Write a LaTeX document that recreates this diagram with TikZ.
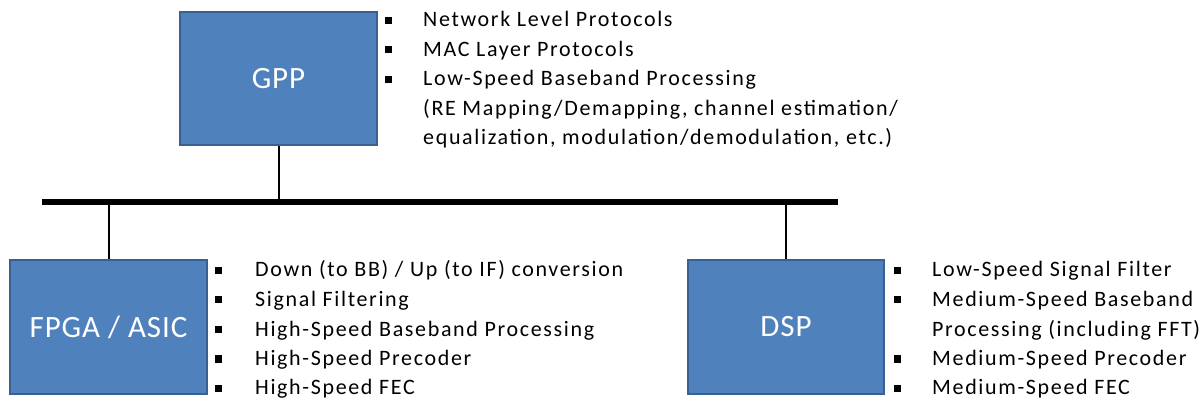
\documentclass[tikz,border=0pt]{standalone}
\usepackage{fontspec}
\setmainfont{Carlito}
\newfontfamily\listfont[LetterSpace=7.5]{Carlito}
\newfontfamily\unitfont[LetterSpace=3]{Carlito}
\begin{document}
\begin{tikzpicture}[x=1pt,y=-1pt,
  unit/.style={draw=boxedge, line width=2.5pt, fill=boxfill, text=white,
    font=\unitfont\fontsize{31}{36}\selectfont, inner sep=0pt},
  bus/.style={line width=6pt},
  link/.style={line width=2pt},
  list/.style={anchor=base west, inner sep=0pt, align=left,
    font=\listfont\fontsize{22}{29.5}\selectfont}]
\definecolor{boxfill}{HTML}{4F81BD}
\definecolor{boxedge}{HTML}{3A6090}
\newcommand{\sqbullet}{\rule[3pt]{7pt}{7pt}}
\useasboundingbox (0,0) rectangle (1202,403);

% processing units
\node[unit, minimum width=197pt, minimum height=133pt] (gpp) at (278.5,78.5) {GPP};
\node[unit, minimum width=197pt, minimum height=134pt] (fpga) at (108.5,327) {FPGA / ASIC};
\node[unit, minimum width=196pt, minimum height=134pt] (dsp) at (786,327) {DSP};

% shared bus
\coordinate (busL) at (42,202);
\coordinate (busR) at (838,202);
\draw[bus] (busL) -- (busR);
\draw[link] (gpp.south) -- (gpp.south |- busL);
\draw[link] (fpga.north) -- (fpga.north |- busL);
\draw[link] (dsp.north) -- (dsp.north |- busL);

% task lists
\node[list] (gpplist) at (385,27) {\begin{tabular}[t]{@{}l@{\hspace{31pt}}l@{}}
\sqbullet & Network Level Protocols\\
\sqbullet & MAC Layer Protocols\\
\sqbullet & Low-Speed Baseband Processing\\
 & (RE Mapping/Demapping, channel estimation/\\
 & equalization, modulation/demodulation, etc.)
\end{tabular}};

\node[list] (fpgalist) at (215,277) {\begin{tabular}[t]{@{}l@{\hspace{33pt}}l@{}}
\sqbullet & Down (to BB) / Up (to IF) conversion\\
\sqbullet & Signal Filtering\\
\sqbullet & High-Speed Baseband Processing\\
\sqbullet & High-Speed Precoder\\
\sqbullet & High-Speed FEC
\end{tabular}};

\node[list] (dsplist) at (894,277) {\begin{tabular}[t]{@{}l@{\hspace{31pt}}l@{}}
\sqbullet & Low-Speed Signal Filter\\
\sqbullet & Medium-Speed Baseband\\
 & Processing (including FFT)\\
\sqbullet & Medium-Speed Precoder\\
\sqbullet & Medium-Speed FEC
\end{tabular}};
\end{tikzpicture}
\end{document}
